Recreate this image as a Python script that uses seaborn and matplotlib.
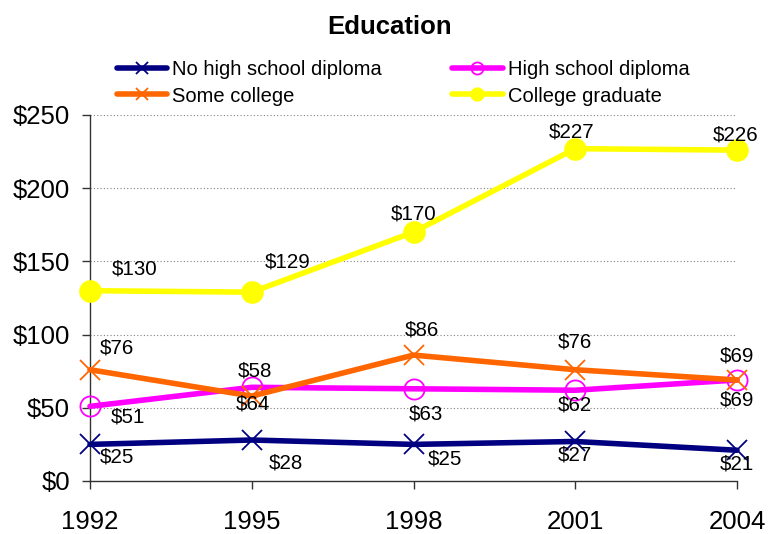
import matplotlib
matplotlib.use("Agg")
import matplotlib.pyplot as plt
import seaborn as sns
import pandas as pd
from matplotlib.ticker import FuncFormatter

# ---- data ----
years = [1992, 1995, 1998, 2001, 2004]
no_high_school = [25, 28, 25, 27, 21]
high_school = [51, 64, 63, 62, 69]
some_college = [76, 58, 86, 76, 69]
college_graduate = [130, 129, 170, 227, 226]
series_names = ["No high school diploma", "High school diploma",
                "Some college", "College graduate"]
y_ticks = [0, 50, 100, 150, 200, 250]
title = "Education"

# ---- styling ----
colors = ["#000080", "#FF00FF", "#FF6600", "#FFFF00"]
markers = ["x", "o", "x", "o"]
facecolors = ["#000080", "none", "#FF6600", "#FFFF00"]
marker_sizes = [15, 14.5, 15, 15]
# label offsets (points) for each point of each series
label_offsets = [
    [(19.4, -9), (24.5, -16.6), (22.3, -10.8), (0, -9.4), (0, -10.1)],
    [(27.4, -7.6), (0.7, -12.2), (9, -18), (0, -10.8), (0, -14.4)],
    [(19.4, 15.8), (2.2, 18), (5.8, 18), (0, 20.2), (0, 17.3)],
    [(32.4, 15.8), (25.9, 21.6), (0, 13), (-2.9, 12.2), (-0.7, 10.8)],
]

values = [no_high_school, high_school, some_college, college_graduate]
df = pd.DataFrame({
    "year": years * len(series_names),
    "value": [v for s in values for v in s],
    "series": [n for n in series_names for _ in years],
})

sns.set_theme(style="white")
plt.rcParams["font.family"] = ["Liberation Sans", "DejaVu Sans"]
plt.rcParams["text.color"] = "black"
plt.rcParams["xtick.color"] = "black"
plt.rcParams["ytick.color"] = "black"
plt.rcParams["xtick.labelcolor"] = "black"
plt.rcParams["ytick.labelcolor"] = "black"

fig = plt.figure(figsize=(7.68, 5.34), dpi=100)
ax = fig.add_axes([90 / 768, 53 / 534, 647 / 768, 366 / 534])

handles = {}
for i, name in enumerate(series_names):
    sub = df[df["series"] == name]
    sns.lineplot(data=sub, x="year", y="value", ax=ax, color=colors[i],
                 linewidth=4, marker=markers[i], markersize=marker_sizes[i],
                 markerfacecolor=facecolors[i], markeredgecolor=colors[i],
                 markeredgewidth=1.3, clip_on=False, zorder=3 + i, legend=False)
    handles[name] = ax.lines[-1]
    for (xv, yv), off in zip(zip(sub["year"], sub["value"]), label_offsets[i]):
        ax.annotate(f"${yv}", (xv, yv), xytext=off, textcoords="offset points",
                    ha="center", va="center", fontsize=14.8, color="black",
                    zorder=10)

ax.set_xlim(years[0], years[-1])
ax.set_ylim(y_ticks[0], y_ticks[-1])
ax.set_xticks(years)
ax.set_yticks(y_ticks)
ax.yaxis.set_major_formatter(FuncFormatter(lambda v, p: f"${int(v)}"))
ax.set_xlabel("")
ax.set_ylabel("")

ax.grid(axis="y", color="#808080", linestyle=(0, (1, 2)), linewidth=0.8)
ax.grid(axis="x", visible=False)
for s in ["top", "right"]:
    ax.spines[s].set_visible(False)
for s in ["left", "bottom"]:
    ax.spines[s].set_color("#333333")
    ax.spines[s].set_linewidth(1)

ax.tick_params(axis="y", direction="out", length=6, width=1, color="#333333",
               labelsize=18.5, pad=8.5, left=True, labelcolor="black")
ax.tick_params(axis="x", direction="out", length=6, width=1, color="#333333",
               labelsize=18.5, pad=15, bottom=True, labelcolor="black")

fig.text(390 / 768, 1 - 34 / 534, title, ha="center", va="baseline",
         fontsize=18.5, fontweight="bold", color="black")

order = ["No high school diploma", "Some college",
         "High school diploma", "College graduate"]
leg = fig.legend([handles[n] for n in order], order, ncol=2, frameon=False,
                 loc="center", bbox_to_anchor=(403 / 768, 1 - 83 / 534),
                 fontsize=14.5, handlelength=2.5, handletextpad=0.25,
                 columnspacing=3.5, labelspacing=0.35, markerscale=0.6)
for t in leg.get_texts():
    t.set_color("black")

fig.savefig("out.png", dpi=100)
